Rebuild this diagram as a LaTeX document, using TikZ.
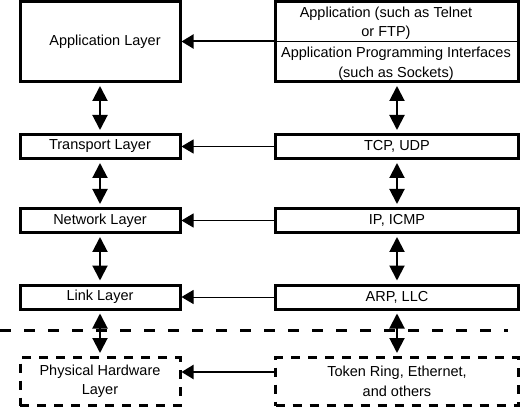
\documentclass[tikz,border=0pt]{standalone}
\usepackage{fontspec}
\setmainfont{Liberation Sans}
\usetikzlibrary{arrows.meta}
\begin{document}
\begin{tikzpicture}[x=1pt,y=-1pt,
  lbl/.style={font=\fontsize{14.5}{19.5}\selectfont, align=center, inner sep=0pt},
  box/.style={draw, line width=3pt, inner sep=0pt, lbl},
  lbox/.style={box, minimum width=160pt},
  rbox/.style={box, minimum width=243pt},
  dashbox/.style={dash pattern=on 9pt off 8pt},
  harrow/.style={line width=1pt, -{Triangle[length=12pt,width=14pt]}},
  varrow/.style={line width=2pt, {Triangle[length=15pt,width=15pt]}-{Triangle[length=15pt,width=15pt]}, shorten <=3pt, shorten >=3pt},
  sep/.style={line width=3pt, dash pattern=on 11pt off 13pt}
]
\useasboundingbox (0,0) rectangle (520,409);

% left column
\node[lbox, minimum height=80pt] (app) at (100,41.5) {};
\node[lbl] (appt) at (105,41.5) {Application Layer};
\node[lbox, minimum height=24pt] (trans) at (100,146.5) {Transport Layer};
\node[lbox, minimum height=24pt] (net) at (100,220.5) {Network Layer};
\node[lbox, minimum height=24pt] (link) at (100,297) {Link Layer};
\node[lbox, dashbox, minimum height=48pt] (phys) at (100,381.5) {Physical Hardware\\Layer};

% right column
\node[rbox, minimum height=80pt] (apps) at (397,41.5) {};
\draw[line width=1pt] (apps.west) -- (apps.east);
\node[lbl] (appst) at (386,23) {Application (such as Telnet\\or FTP)};
\node[lbl] (apist) at (396,63.5) {Application Programming Interfaces\\(such as Sockets)};
\node[rbox, minimum height=24pt] (tcp) at (397,146.5) {TCP, UDP};
\node[rbox, minimum height=24pt] (ip) at (397,220.5) {IP, ICMP};
\node[rbox, minimum height=24pt] (arp) at (397,297) {ARP, LLC};
\node[rbox, dashbox, minimum height=48pt] (tok) at (397,381.5) {Token Ring, Ethernet,\\and others};

% separator
\coordinate (sepL) at (0,330);
\coordinate (sepR) at (508,330);
\draw[sep] (sepL) -- (sepR);

% horizontal arrows
\draw[harrow, line width=2pt] (apps.west) -- (app.east);
\draw[harrow] (tcp.west) -- (trans.east);
\draw[harrow] (ip.west) -- (net.east);
\draw[harrow] (arp.west) -- (link.east);
\coordinate (py) at (0,372);
\draw[harrow, line width=2pt] (tok.west |- py) -- (phys.east |- py);

% vertical arrows
\draw[varrow] (app.south) -- (trans.north);
\draw[varrow] (trans.south) -- (net.north);
\draw[varrow] (net.south) -- (link.north);
\draw[varrow] (link.south) -- (phys.north);
\draw[varrow] (apps.south) -- (tcp.north);
\draw[varrow] (tcp.south) -- (ip.north);
\draw[varrow] (ip.south) -- (arp.north);
\draw[varrow] (arp.south) -- (tok.north);
\end{tikzpicture}
\end{document}
